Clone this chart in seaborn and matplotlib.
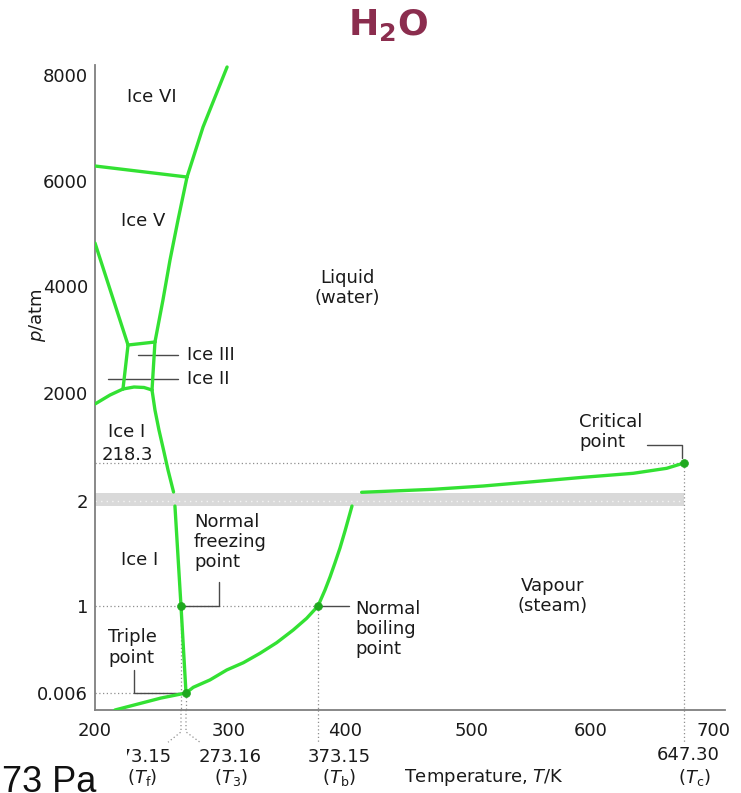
import numpy as np
import pandas as pd
import matplotlib
matplotlib.use("Agg")
import matplotlib.pyplot as plt
from matplotlib.transforms import blended_transform_factory
import seaborn as sns

# ---------------- phase-boundary data (T in K, p in atm) ----------------
sublimation_T = [217.0, 241.1, 255.9, 273.16]
sublimation_p = [0.0, 0.0026, 0.0042, 0.006]

vapour_low_T = [273.16, 277.7, 288.1, 298.6, 311.8, 325.5, 339.2, 352.8, 363.8, 373.15,
                380.1, 385.1, 390.0, 395.0, 400.0, 403.1, 405.5]
vapour_low_p = [0.006, 0.071, 0.155, 0.269, 0.352, 0.460, 0.581, 0.726, 0.859, 1.0,
                1.152, 1.276, 1.410, 1.552, 1.714, 1.848, 1.952]

vapour_high_T = [413.1, 443.3, 469.5, 509.5, 551.5, 593.4, 621.5, 638.5, 647.3]
vapour_high_p = [51.5, 60.6, 68.6, 87.4, 111.9, 136.9, 159.7, 188.1, 218.3]

melting_low_T = [273.16, 273.15, 268.0]
melting_low_p = [0.006, 1.0, 1.952]

melting_high_T = [266.8, 262.1, 258.3, 254.4, 251.0, 248.5]
melting_high_p = [53.2, 178.5, 549, 1058, 1567, 2056]

ice1_ice2_T = [200.0, 212.8, 223.8]
ice1_ice2_p = [1720, 1949, 2075]

ice1_ice3_T = [223.8, 233.2, 241.7, 248.5]
ice1_ice3_p = [2075, 2112, 2103, 2056]

ice2_ice3_T = [223.8, 228.1]
ice2_ice3_p = [2075, 2897]

ice3_ice5_T = [228.1, 251.0]
ice3_ice5_p = [2897, 2953]

ice3_liquid_T = [248.5, 251.0]
ice3_liquid_p = [2056, 2953]

ice2_ice5_T = [228.1, 200.0]
ice2_ice5_p = [2897, 4819]

ice5_liquid_T = [251.0, 257.8, 263.8, 270.6, 273.8]
ice5_liquid_p = [2953, 3738, 4495, 5257, 6075]

ice5_ice6_T = [200.0, 273.8]
ice5_ice6_p = [6283, 6075]

ice6_liquid_T = [273.8, 283.8, 298.8]
ice6_liquid_p = [6075, 7019, 8151]

# special points: normal freezing, triple, normal boiling, critical
point_T = [273.15, 273.16, 373.15, 647.30]
point_p = [1.0, 0.006, 1.0, 218.3]

# axis ticks
x_ticks = [200, 300, 400, 500, 600, 700]
y_ticks = [0.006, 1, 2, 2000, 4000, 6000, 8000]
y_tick_labels = ["0.006", "1", "2", "2000", "4000", "6000", "8000"]

# ---------------- schematic (piecewise) axis layout ----------------
T_KNOTS = [200, 273.15, 273.16, 300, 373.15, 400, 500, 600, 647.3, 700, 722]
T_PIX = [0, 86, 91, 134, 223, 250, 377, 496, 589, 618, 630]
P_KNOTS = [0, 0.006, 1, 2, 218.3, 2000, 4000, 6000, 8000, 8189]
P_PIX = [0, 17, 104, 209, 247, 317, 424, 529, 635, 645]


def fwd_x(v):
    return np.interp(np.asarray(v, dtype=float), T_KNOTS, T_PIX)


def inv_x(u):
    return np.interp(np.asarray(u, dtype=float), T_PIX, T_KNOTS)


def fwd_y(v):
    return np.interp(np.asarray(v, dtype=float), P_KNOTS, P_PIX)


def inv_y(u):
    return np.interp(np.asarray(u, dtype=float), P_PIX, P_KNOTS)


segments = {
    "sublimation": (sublimation_T, sublimation_p),
    "vapour_low": (vapour_low_T, vapour_low_p),
    "vapour_high": (vapour_high_T, vapour_high_p),
    "melting_low": (melting_low_T, melting_low_p),
    "melting_high": (melting_high_T, melting_high_p),
    "ice1_ice2": (ice1_ice2_T, ice1_ice2_p),
    "ice1_ice3": (ice1_ice3_T, ice1_ice3_p),
    "ice2_ice3": (ice2_ice3_T, ice2_ice3_p),
    "ice3_ice5": (ice3_ice5_T, ice3_ice5_p),
    "ice3_liquid": (ice3_liquid_T, ice3_liquid_p),
    "ice2_ice5": (ice2_ice5_T, ice2_ice5_p),
    "ice5_liquid": (ice5_liquid_T, ice5_liquid_p),
    "ice5_ice6": (ice5_ice6_T, ice5_ice6_p),
    "ice6_liquid": (ice6_liquid_T, ice6_liquid_p),
}
rows = []
for name, (ts, ps) in segments.items():
    for i, (t, p) in enumerate(zip(ts, ps)):
        rows.append({"segment": name, "order": i, "T": t, "p": p})
curves = pd.DataFrame(rows)
points = pd.DataFrame({"T": point_T, "p": point_p})

# ---------------- styling ----------------
sns.set_theme(style="white")
plt.rcParams["font.family"] = ["DejaVu Sans"]
plt.rcParams["mathtext.fontset"] = "dejavusans"

GREEN = "#33E133"
DOT = "#1FA81F"
GRID = "#8f8f8f"
LEAD = "#4a4a4a"
TXT = "#1a1a1a"
FS = 13

W, H = 741, 793
fig = plt.figure(figsize=(W / 100, H / 100), dpi=100)
ax = fig.add_axes([95 / W, 1 - 710 / H, 630 / W, 645 / H])
ax.set_xscale("function", functions=(fwd_x, inv_x))
ax.set_yscale("function", functions=(fwd_y, inv_y))

# broken-axis band around p = 2 atm
ax.fill_between([200, 647.3], 1.952, 47.5, color="#d9d9d9", lw=0, zorder=1)
ax.plot([200, 647.3], [2, 2], color="#f4f4f4", lw=1, ls=(0, (1, 3)), zorder=1.5)

# dotted guide lines
dot_style = dict(color=GRID, lw=0.9, ls=(0, (1, 2)), zorder=1.2)
ax.plot([200, 373.15], [1, 1], **dot_style)
ax.plot([200, 273.16], [0.006, 0.006], **dot_style)
ax.plot([200, 647.3], [218.3, 218.3], **dot_style)
for t, p in zip(point_T, point_p):
    ax.plot([t, t], [p, 0], **dot_style)

below = blended_transform_factory(ax.transData, ax.transAxes)
below_style = dict(dot_style, transform=below, clip_on=False)
ax.plot([273.15, 273.15, 262.1], [0, -0.034, -0.050], **below_style)
ax.plot([273.16, 273.16, 281.9], [0, -0.034, -0.050], **below_style)
ax.plot([373.15, 373.15], [0, -0.050], **below_style)
ax.plot([647.3, 647.3], [0, -0.050], **below_style)

# phase boundaries
sns.lineplot(data=curves, x="T", y="p", units="segment", estimator=None, sort=False,
             color=GREEN, lw=2.4, ax=ax, legend=False, zorder=3,
             solid_capstyle="round", solid_joinstyle="round")
sns.scatterplot(data=points, x="T", y="p", color=DOT, s=32, edgecolor=DOT,
                linewidth=0.5, ax=ax, zorder=4, clip_on=False)

# leader lines for annotations
lead = dict(color=LEAD, lw=1.0, zorder=2)
ax.plot([273.15, 293.8, 293.8], [1, 1, 1.229], **lead)
ax.plot([233.2, 233.2, 273.16], [0.269, 0.006, 0.006], **lead)
ax.plot([373.15, 403.1], [1, 1], **lead)
ax.plot([628.5, 646.3, 646.3], [676, 676, 345], **lead)
ax.plot([236.6, 270.6], [2710, 2710], **lead)
ax.plot([211.1, 270.6], [2262, 2262], **lead)

# region and point labels
txt = dict(fontsize=FS, color=TXT, zorder=5)
ax.text(248.5, 7585, "Ice VI", ha="center", va="center", **txt)
ax.text(240.8, 5238, "Ice V", ha="center", va="center", **txt)
ax.text(401.6, 3962, "Liquid\n(water)", ha="center", va="center", linespacing=1.15, **txt)
ax.text(273.8, 2710, "Ice III", ha="left", va="center", **txt)
ax.text(273.8, 2262, "Ice II", ha="left", va="center", **txt)
ax.text(227.2, 1007, "Ice I", ha="center", va="center", **txt)
ax.text(227.2, 422, "218.3", ha="center", va="center", **txt)
ax.text(238.3, 1.438, "Ice I", ha="center", va="center", **txt)
ax.text(278.2, 1.61, "Normal\nfreezing\npoint", ha="left", va="center", linespacing=1.15, **txt)
ax.text(211.1, 0.526, "Triple\npoint", ha="left", va="center", linespacing=1.15, **txt)
ax.text(407.9, 0.737, "Normal\nboiling\npoint", ha="left", va="center", linespacing=1.15, **txt)
ax.text(568.1, 1.095, "Vapour\n(steam)", ha="center", va="center", linespacing=1.15, **txt)
ax.text(589.9, 1007, "Critical\npoint", ha="left", va="center", linespacing=1.15, **txt)

# characteristic temperatures under the axis
lab = dict(fontsize=FS, color=TXT, transform=below, ha="center", va="center", clip_on=False)
ax.text(238.3, -0.073, "273.15", **lab)
ax.text(240.0, -0.104, r"($T_\mathrm{f}$)", **lab)
ax.text(300.6, -0.073, "273.16", **lab)
ax.text(301.9, -0.104, r"($T_\mathrm{3}$)", **lab)
ax.text(394.0, -0.073, "373.15", **lab)
ax.text(394.0, -0.104, r"($T_\mathrm{b}$)", **lab)
ax.text(654.6, -0.070, "647.30", **lab)
ax.text(665.5, -0.105, r"($T_\mathrm{c}$)", **lab)
ax.text(510.2, -0.104, r"Temperature, $T$/K", **lab)

# axes, ticks
ax.set_xlim(200, 722)
ax.set_ylim(0, 8189)
ax.set_xticks(x_ticks)
ax.set_xticklabels([str(v) for v in x_ticks])
ax.set_yticks(y_ticks)
ax.set_yticklabels(y_tick_labels)
ax.minorticks_off()
ax.tick_params(axis="y", direction="in", length=7, width=1, color="#7f7f7f",
               pad=5, labelsize=FS, labelcolor=TXT)
ax.tick_params(axis="x", direction="out", length=7, width=1, color="#7f7f7f",
               pad=2, labelsize=FS, labelcolor=TXT)
for side in ("top", "right"):
    ax.spines[side].set_visible(False)
for side in ("left", "bottom"):
    ax.spines[side].set_color("#7f7f7f")
    ax.spines[side].set_linewidth(1.3)
ax.set_xlabel("")
ax.set_ylabel(r"$p$/atm", fontsize=FS, color=TXT)
ax.yaxis.set_label_coords(-0.075, 0.612)

fig.text(388 / W, 1 - 25 / H, r"$\mathbf{H_2O}$", ha="center", va="center",
         fontsize=26, color="#8B2D4E")
fig.text(2 / W, 1.5 / H, "73 Pa ", ha="left", va="baseline", fontsize=26,
         family="Liberation Sans", color="#111111", zorder=10,
         bbox=dict(facecolor="white", edgecolor="none", pad=15))

fig.savefig("out.png", dpi=100, facecolor="white")
